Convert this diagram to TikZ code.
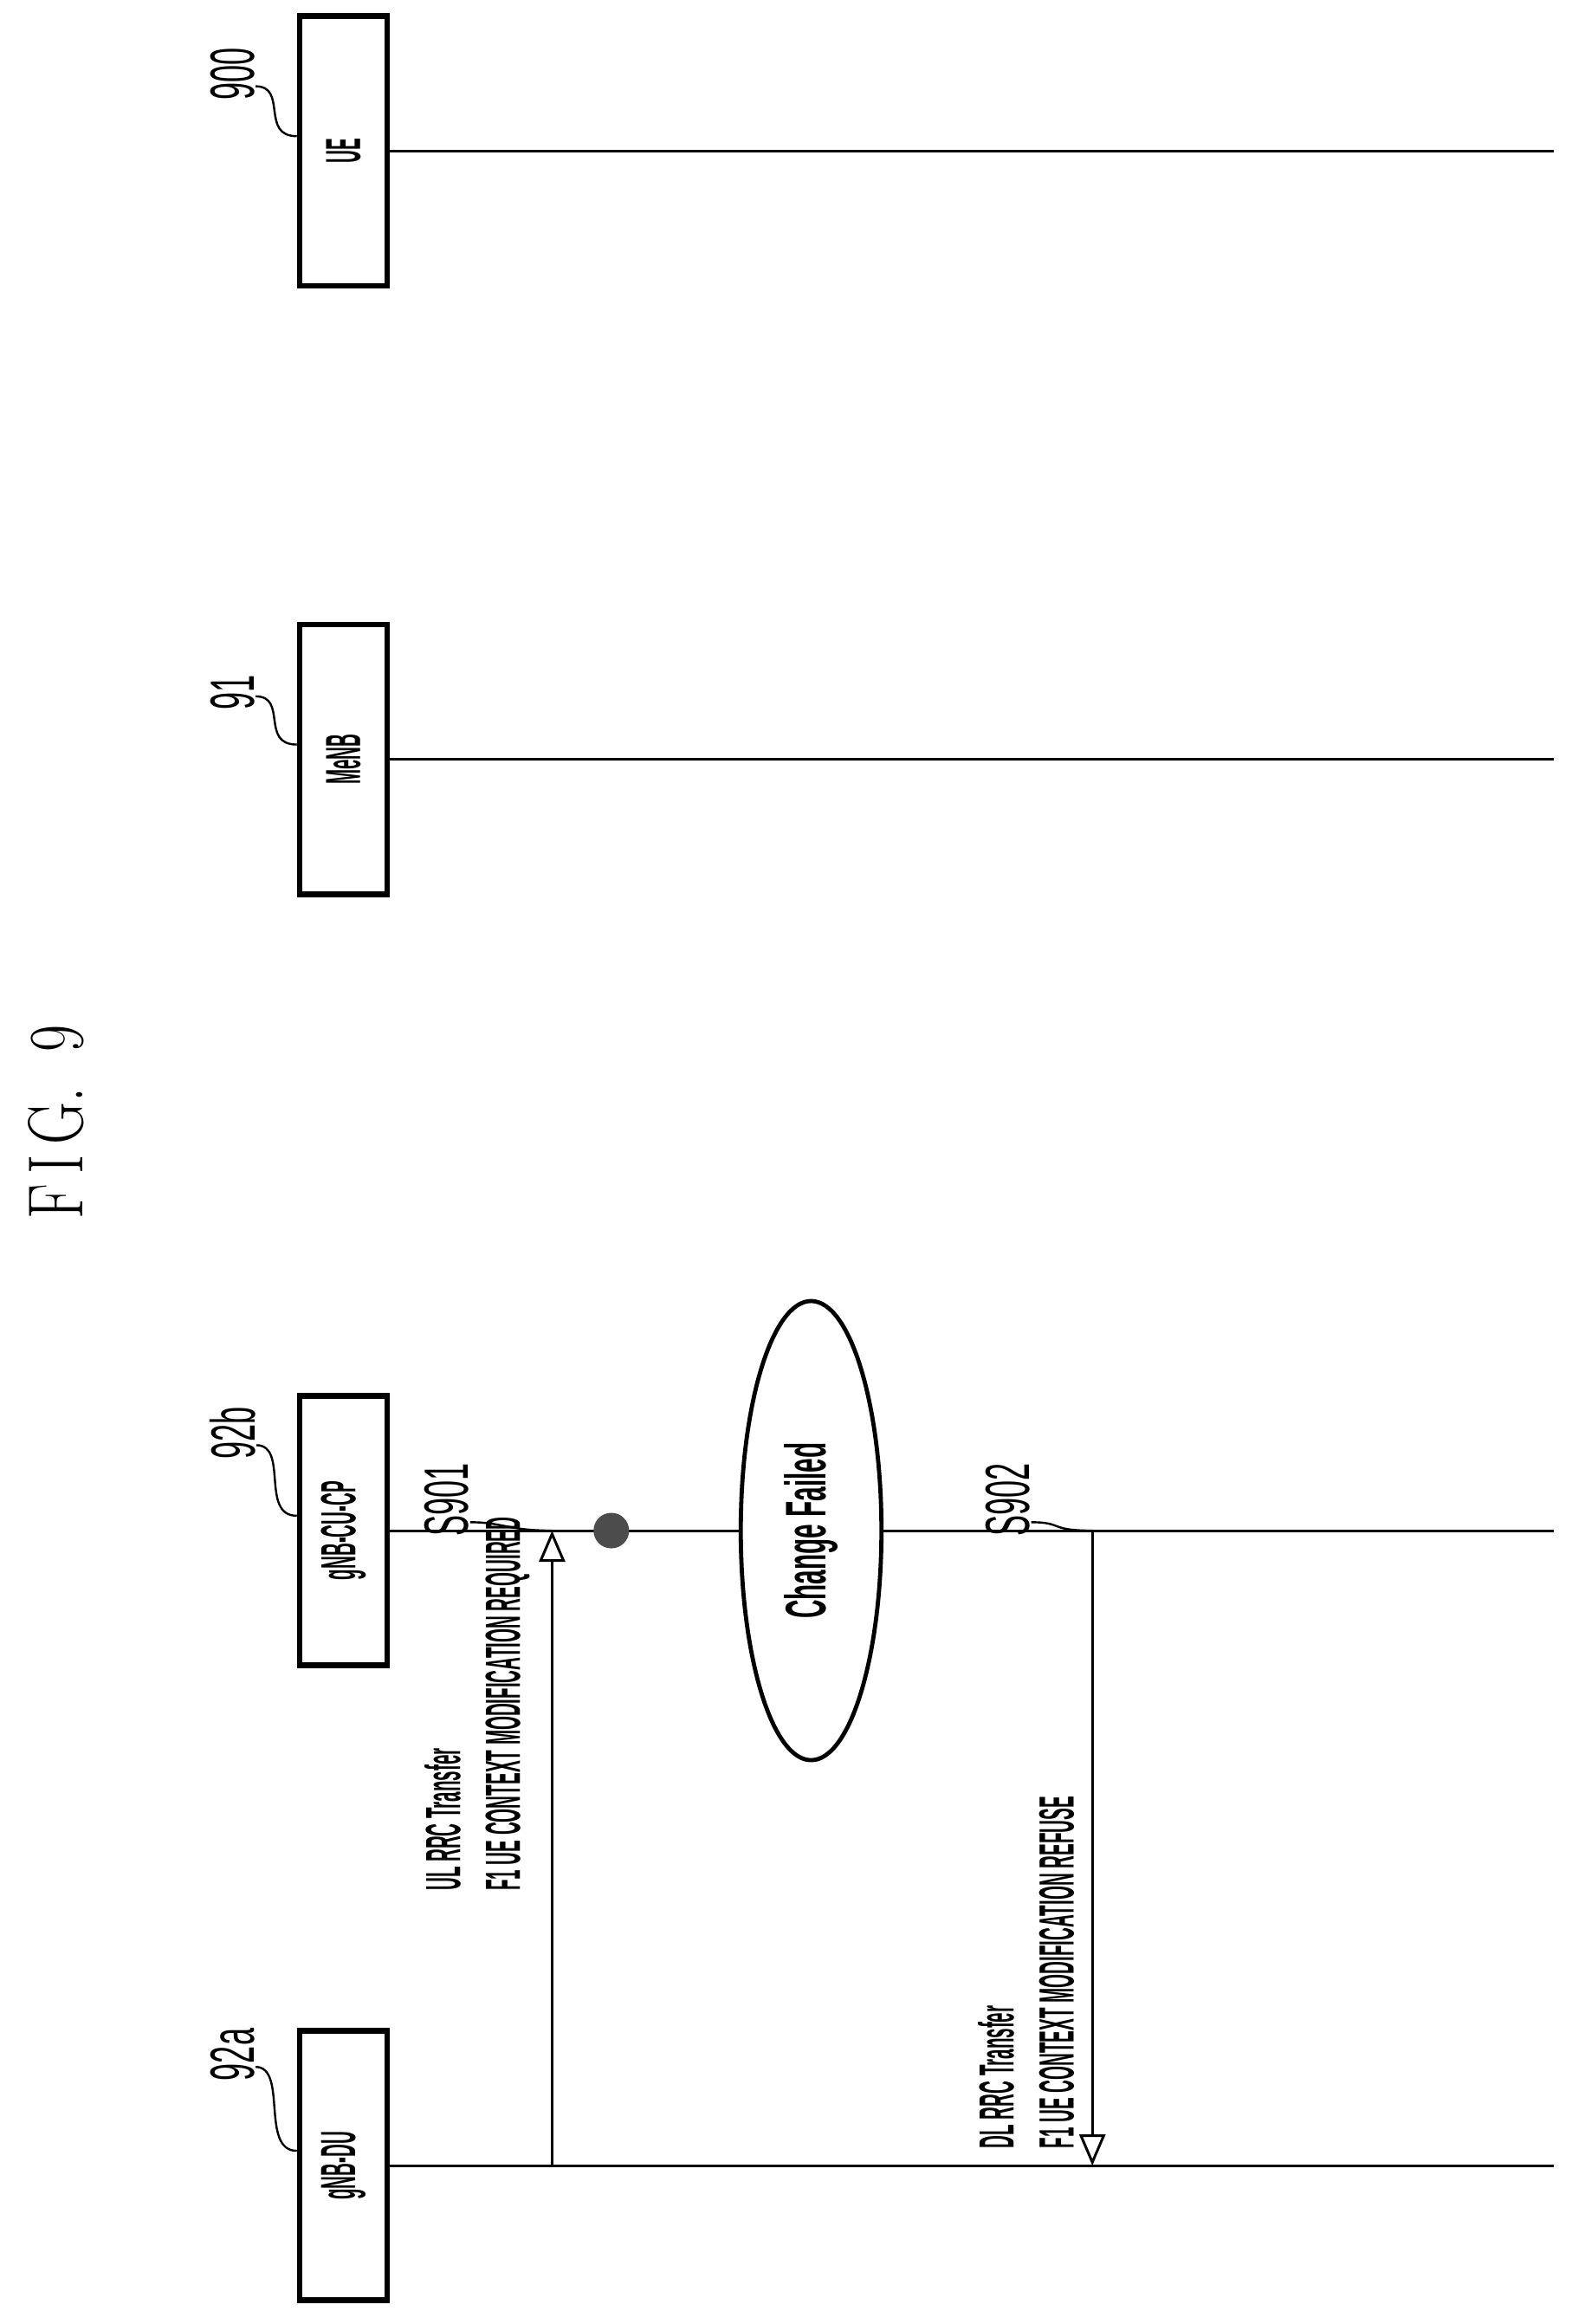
\documentclass[tikz,border=0pt]{standalone}
\usepackage{fontspec}
\setsansfont{Liberation Sans}
\usetikzlibrary{arrows.meta, shapes.geometric}
\newcommand\narrow[2][0.36]{\rotatebox{90}{\scalebox{#1}[1]{#2}}}
\begin{document}
\begin{tikzpicture}[x=0.01cm, y=-0.01cm,
          every node/.style = {inner sep=0pt, font=\sffamily\bfseries\fontsize{9.5}{11.5}\selectfont},
          entity/.style = {draw, line width=1.1pt, minimum width=0.59cm, minimum height=1.82cm},
          refnum/.style = {font=\sffamily\fontsize{12}{14}\selectfont},
          life/.style = {line width=0.5pt},
          lead/.style = {line width=0.4pt},
          msg/.style = {line width=0.5pt, -{Triangle[open, length=6pt, width=5pt]}}]
\useasboundingbox (0,0) rectangle (1062,1570);
% title
\node (fig) at (38,758) {\rotatebox{90}{\scalebox{0.75}[1]{\normalfont\fontsize{15}{18}\selectfont F\,I\,G.~~9}}};
% entities
\node[entity] (ue) at (232,102) {\narrow{UE}};
\node[entity] (menb) at (232,513) {\narrow{MeNB}};
\node[entity] (cu) at (232,1034) {\narrow{gNB-CU-CP}};
\node[entity] (du) at (232,1463) {\narrow{gNB-DU}};
\node[refnum] (n900) at (157,50) {\narrow[0.5]{900}};
\node[refnum] (n91) at (157,468) {\narrow[0.5]{91}};
\node[refnum] (n92b) at (157,968) {\narrow[0.5]{92b}};
\node[refnum] (n92a) at (157,1388) {\narrow[0.5]{92a}};
\foreach \n/\b in {n900/ue, n91/menb, n92b/cu, n92a/du}
  \draw[lead] ([yshift=0.1cm]\n.south east) .. controls +(22,0) and +(-25,0) .. ([yshift=0.1cm]\b.west);
% lifelines
\coordinate (ueend) at (1050,102);
\coordinate (menbend) at (1050,513);
\coordinate (cuend) at (1050,1034);
\coordinate (duend) at (1050,1463);
\foreach \b in {ue, menb, cu, du}
  \draw[life] (\b.east) -- (\b end);
% S901
\coordinate (s901top) at (373,1034);
\coordinate (s901bot) at (373,1463);
\draw[msg] (s901bot) -- (s901top);
\node[anchor=south] (ul) at (323,1278) {\narrow{\begin{tabular}{@{}l@{}}UL RRC Transfer\\F1 UE CONTEXT MODIFICATION REQUIRED\end{tabular}}};
\node[refnum] (s901) at (302,1013) {\narrow[0.5]{S901}};
\draw[lead] ([yshift=0.1cm]s901.south east) .. controls +(22,0) and +(-30,0) .. (s901top);
% dot and failure
\node[circle, fill=black!70, minimum size=0.24cm] (dot) at (413,1034) {};
\node[ellipse, draw, line width=0.8pt, minimum width=0.95cm, minimum height=3.1cm, fill=white] (fail) at (548,1034) {\narrow[0.45]{\fontsize{11}{13}\selectfont Change Failed}};
% S902
\coordinate (s902top) at (738,1034);
\coordinate (s902bot) at (738,1463);
\draw[msg] (s902top) -- (s902bot);
\node[anchor=south] (dl) at (697,1452) {\narrow{\begin{tabular}{@{}l@{}}DL RRC Transfer\\F1 UE CONTEXT MODIFICATION REFUSE\end{tabular}}};
\node[refnum] (s902) at (681,1013) {\narrow[0.5]{S902}};
\draw[lead] ([yshift=0.1cm]s902.south east) .. controls +(22,0) and +(-30,0) .. (s902top);
\end{tikzpicture}
\end{document}
